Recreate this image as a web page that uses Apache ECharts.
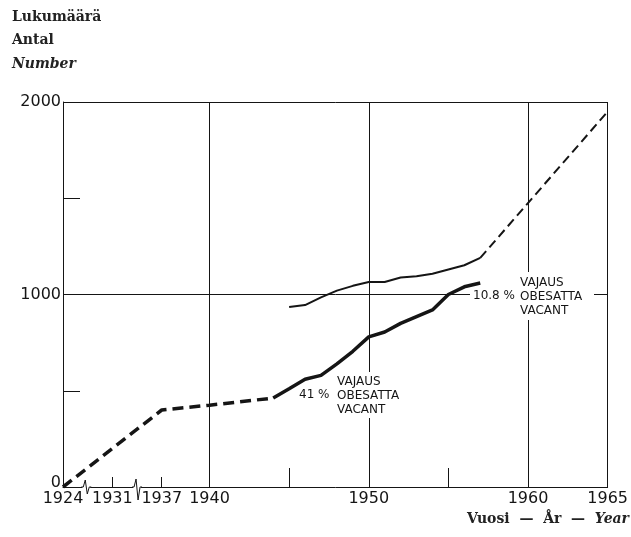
<!DOCTYPE html>
<html>
<head>
<meta charset="utf-8">
<script src="https://cdn.jsdelivr.net/npm/echarts@6/dist/echarts.min.js"></script>
<style>
html, body { margin: 0; padding: 0; background: #fff; }
#main { width: 631px; height: 537px; }
</style>
</head>
<body>
<div id="main"></div>
<script>
// vuodet joille akselilla on merkintä
var tickYears = [1924, 1931, 1937, 1940, 1950, 1960, 1965];
var yTicks = [0, 1000, 2000];

// alempi käyrä, katkoviiva (1924-1944)
var lowerDashYears = [1924, 1931, 1937, 1940, 1944];
var lowerDashValues = [0, 200, 400, 425, 462];
// alempi käyrä, yhtenäinen
var lowerYears = [1944, 1945, 1946, 1947, 1948, 1949, 1950, 1951, 1952, 1953, 1954, 1955, 1956, 1957];
var lowerValues = [462, 510, 560, 580, 640, 705, 780, 805, 850, 885, 920, 1000, 1040, 1060];
// ylempi käyrä
var upperYears = [1945, 1946, 1947, 1948, 1949, 1950, 1951, 1952, 1953, 1954, 1955, 1956, 1957];
var upperValues = [935, 945, 985, 1020, 1045, 1065, 1065, 1088, 1095, 1108, 1130, 1152, 1190];
// ennuste
var projYears = [1957, 1965];
var projValues = [1190, 1950];

// katkaistu akseli: 1924-1937 on puristettu
function axisPos(y) {
    if (y >= 1937) return y;
    if (y >= 1931) return 1933.9 + (y - 1931) * (1937 - 1933.9) / 6;
    return 1930.8 + (y - 1924) * (1933.9 - 1930.8) / 7;
}
function pairs(xs, ys) {
    return xs.map(function (x, i) { return [axisPos(x), ys[i]]; });
}

var ink = '#151515';
var sans = '"DejaVu Sans", sans-serif';
var serif = '"DejaVu Serif", serif';

var myChart = echarts.init(document.getElementById('main'));

var option = {
    animation: false,
    grid: { left: 63, right: 20, top: 102, bottom: 50 },
    xAxis: [{
        type: 'value',
        min: axisPos(1924),
        max: 1965,
        axisLine: { show: true, onZero: false, lineStyle: { color: ink, width: 1 } },
        axisTick: { show: true, inside: true, length: 10, customValues: [axisPos(1931), 1937], lineStyle: { color: ink } },
        axisLabel: {
            customValues: tickYears.map(axisPos),
            formatter: function (v) {
                for (var i = 0; i < tickYears.length; i++) {
                    if (Math.abs(axisPos(tickYears[i]) - v) < 1e-6) return String(tickYears[i]);
                }
                return '';
            },
            margin: 4, color: ink, fontFamily: sans, fontSize: 16
        },
        splitLine: { show: false }
    }, {
        type: 'value',
        position: 'bottom',
        min: axisPos(1924),
        max: 1965,
        axisLine: { show: false },
        axisTick: { show: true, inside: true, length: 19, customValues: [1945, 1955], lineStyle: { color: ink } },
        axisLabel: { show: false },
        splitLine: { show: false }
    }],
    yAxis: {
        type: 'value',
        min: 0,
        max: 2000,
        interval: 1000,
        axisLine: { show: true, lineStyle: { color: ink, width: 1 } },
        axisTick: { show: true, inside: true, length: 17, customValues: [500, 1500], lineStyle: { color: ink } },
        axisLabel: {
            customValues: yTicks,
            formatter: function (v) { return v === 0 ? '{z|0}' : String(v); },
            rich: { z: { padding: [0, 0, 9, 0], fontFamily: sans, fontSize: 16, color: ink } },
            margin: 2, color: ink, fontFamily: sans, fontSize: 16
        },
        splitLine: { show: false }
    },
    series: [
        {
            name: 'lower-dash', type: 'line', data: pairs(lowerDashYears, lowerDashValues),
            symbol: 'none', lineStyle: { color: ink, width: 3.5, type: [11, 6] },
            markLine: {
                silent: true, symbol: 'none', label: { show: false },
                lineStyle: { color: ink, width: 1, type: 'solid' },
                data: [{ xAxis: 1940 }, { xAxis: 1950 }, { xAxis: 1960 }, { xAxis: 1965 },
                       { yAxis: 1000 }, { yAxis: 2000 }]
            }
        },
        {
            name: 'lower', type: 'line', data: pairs(lowerYears, lowerValues),
            symbol: 'none', lineStyle: { color: ink, width: 3.5 }
        },
        {
            name: 'upper', type: 'line', data: pairs(upperYears, upperValues),
            symbol: 'none', lineStyle: { color: ink, width: 2 }
        },
        {
            name: 'projection', type: 'line', data: pairs(projYears, projValues),
            symbol: 'none', lineStyle: { color: ink, width: 2, type: [9, 5] }
        }
    ],
    graphic: [
        { type: 'text', z: 100, left: 12, top: 10, style: { text: 'Lukumäärä', font: 'bold 14px ' + serif, fill: '#222' } },
        { type: 'text', z: 100, left: 12, top: 33, style: { text: 'Antal', font: 'bold 14px ' + serif, fill: '#222' } },
        { type: 'text', z: 100, left: 12, top: 57, style: { text: 'Number', font: 'italic bold 14px ' + serif, fill: '#222' } },
        {
            type: 'text', z: 100, right: 2, top: 512,
            style: {
                text: '{a|Vuosi  —  År  —  }{b|Year}',
                rich: {
                    a: { font: 'bold 14px ' + serif, fill: '#222' },
                    b: { font: 'italic bold 14px ' + serif, fill: '#222' }
                }
            }
        },
        // valkoiset taustat tekstien alle
        { type: 'rect', z: 99, left: 334, top: 372, shape: { width: 68, height: 46 }, style: { fill: '#fff' } },
        { type: 'rect', z: 99, left: 470, top: 288, shape: { width: 48, height: 14 }, style: { fill: '#fff' } },
        { type: 'rect', z: 99, left: 516, top: 272, shape: { width: 78, height: 48 }, style: { fill: '#fff' } },
        { type: 'text', z: 100, left: 299, top: 389, style: { text: '41 %', font: '12px ' + sans, fill: ink } },
        { type: 'text', z: 100, left: 337, top: 375, style: { text: 'VAJAUS\nOBESATTA\nVACANT', font: '12px ' + sans, lineHeight: 14, fill: ink } },
        { type: 'text', z: 100, left: 473, top: 290, style: { text: '10.8 %', font: '12px ' + sans, fill: ink } },
        { type: 'text', z: 100, left: 520, top: 276, style: { text: 'VAJAUS\nOBESATTA\nVACANT', font: '12px ' + sans, lineHeight: 14, fill: ink } }
    ]
};

myChart.setOption(option);

// akselin katkosmerkit
var breaks = [[1927.3, 7, 7], [1934, 8, 13]];
var extra = [];
breaks.forEach(function (b) {
    var px = myChart.convertToPixel({ xAxisIndex: 0 }, axisPos(b[0]));
    var py = myChart.convertToPixel({ yAxisIndex: 0 }, 0);
    extra.push({ type: 'rect', z: 99, shape: { x: px - 4, y: py - 2, width: 8, height: 4 }, style: { fill: '#fff' } });
    extra.push({
        type: 'polyline', z: 100,
        shape: { points: [[px - 5, py], [px - 3, py], [px - 1, py - b[1]], [px + 1, py + b[2]], [px + 3, py], [px + 5, py]] },
        style: { stroke: ink, lineWidth: 1, fill: null }
    });
});
myChart.setOption({ graphic: option.graphic.concat(extra) });
</script>
</body>
</html>
